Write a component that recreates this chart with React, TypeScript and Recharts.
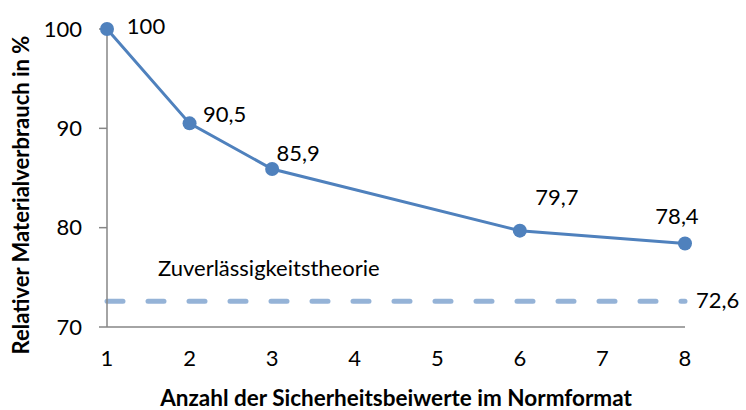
import { LineChart, Line, XAxis, YAxis, ReferenceLine, LabelList } from "recharts";

const factorCounts = [1, 2, 3, 6, 8];
const materialUse = [100, 90.5, 85.9, 79.7, 78.4];
const xTicks = [1, 2, 3, 4, 5, 6, 7, 8];
const yTicks = [70, 80, 90, 100];
const reliabilityTheory = 72.6;
const reliabilityLabel = "Zuverlässigkeitstheorie";
const xTitle = "Anzahl der Sicherheitsbeiwerte im Normformat";
const yTitle = "Relativer Materialverbrauch in %";

// manual label placement like in the original (dx, dy from point)
const labelOffsets = [
  [39, -4],
  [35, -10],
  [26, -17],
  [37, -34],
  [-8, -28],
];

const data = factorCounts.map((x, i) => ({ x, value: materialUse[i] }));

const font = "Lato, 'Open Sans', sans-serif";
const fmt = (v: number) => String(v).replace(".", ",");

function PointLabel(props: any) {
  const { x, y, value, index } = props;
  const [dx, dy] = labelOffsets[index] ?? [0, -15];
  return (
    <text x={x + dx} y={y + dy} textAnchor="middle" dominantBaseline="central" fontSize={22} fontFamily={font} fill="#000">
      {fmt(value)}
    </text>
  );
}

function TheoryLabel(props: any) {
  const { x, y, width } = props.viewBox;
  return (
    <g fontFamily={font} fill="#000">
      <text x={x + width + 11} y={y - 2} dominantBaseline="central" fontSize={22}>
        {fmt(reliabilityTheory)}
      </text>
      <text x={x + 51} y={y - 34} dominantBaseline="central" fontSize={22}>
        {reliabilityLabel}
      </text>
    </g>
  );
}

function XTitle(props: any) {
  const { x, width } = props.viewBox;
  return (
    <text x={x + width / 2} y={406} textAnchor="middle" fontSize={22.5} fontWeight={700} fontFamily={font} fill="#000">
      {xTitle}
    </text>
  );
}

function YTitle() {
  return (
    <text
      x={20}
      y={195}
      transform="rotate(-90, 20, 195)"
      textAnchor="middle"
      dominantBaseline="central"
      fontSize={22}
      fontWeight={700}
      fontFamily={font}
      fill="#000"
    >
      {yTitle}
    </text>
  );
}

export default function App() {
  return (
    <div style={{ position: "absolute", left: 0, top: 0, width: 746, height: 410, background: "#fff" }}>
      <LineChart width={746} height={410} data={data} margin={{ top: 29, right: 61, bottom: 0, left: 0 }}>
        <XAxis
          dataKey="x"
          type="number"
          domain={[1, 8]}
          ticks={xTicks}
          interval={0}
          tickLine={false}
          axisLine={{ stroke: "#868686", strokeWidth: 1.5 }}
          tick={{ fontSize: 22, fontFamily: font, fill: "#000" }}
          tickMargin={17}
          height={83}
          label={<XTitle />}
        />
        <YAxis
          type="number"
          domain={[70, 100]}
          ticks={yTicks}
          interval={0}
          width={107}
          tickSize={8}
          tickMargin={17}
          tickLine={{ stroke: "#868686", strokeWidth: 1.5 }}
          axisLine={{ stroke: "#868686", strokeWidth: 1.5 }}
          tick={{ fontSize: 22, fontFamily: font, fill: "#000" }}
          label={<YTitle />}
        />
        <ReferenceLine
          y={reliabilityTheory}
          stroke="#95b3d7"
          strokeWidth={5}
          strokeDasharray="16 25"
          strokeLinecap="round"
          label={<TheoryLabel />}
        />
        <Line
          dataKey="value"
          stroke="#4f81bd"
          strokeWidth={3}
          dot={{ r: 7, fill: "#4f81bd", stroke: "#4f81bd", strokeWidth: 0 }}
          activeDot={false}
          isAnimationActive={false}
        >
          <LabelList dataKey="value" content={<PointLabel />} />
        </Line>
      </LineChart>
    </div>
  );
}
